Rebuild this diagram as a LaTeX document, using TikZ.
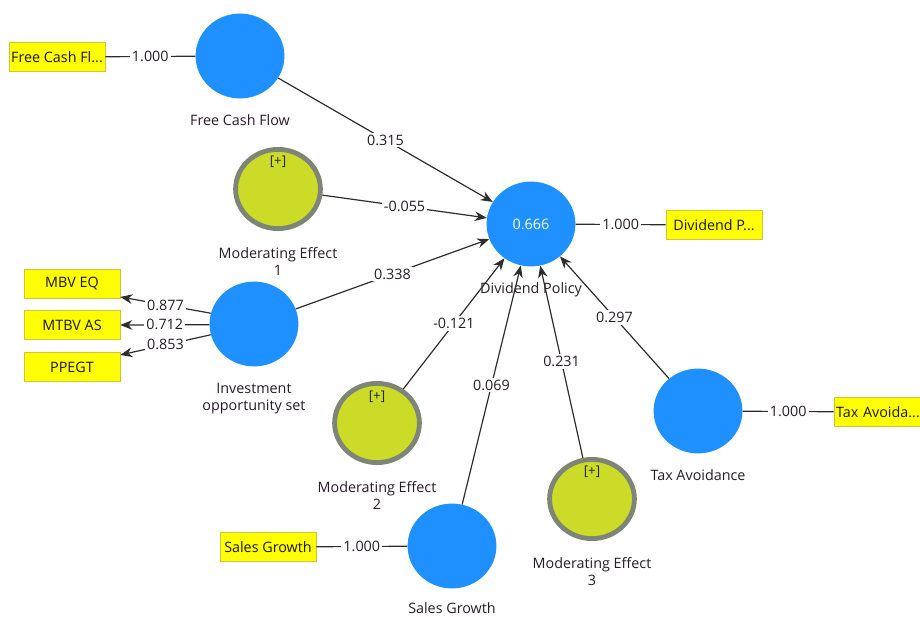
\documentclass[tikz,border=0pt]{standalone}
\usepackage{fontspec}
\setmainfont{Open Sans}
\usetikzlibrary{arrows.meta, positioning, shapes.geometric}

\definecolor{lvblue}{RGB}{30,144,255}
\definecolor{modgreen}{RGB}{204,218,40}
\definecolor{modgray}{RGB}{125,133,118}
\definecolor{indyellow}{RGB}{255,255,0}
\definecolor{indborder}{RGB}{205,195,60}
\definecolor{txtcol}{RGB}{40,28,40}
\definecolor{edgecol}{RGB}{45,45,45}

\begin{document}
\begin{tikzpicture}[x=0.025cm, y=-0.025cm,
	lv/.style={ellipse, fill=lvblue, minimum width=2.22cm, minimum height=2.12cm, inner sep=0pt},
	mod/.style={ellipse, draw=modgray, line width=0.12cm, fill=modgreen, minimum width=2.12cm, minimum height=1.98cm, inner sep=0pt},
	ind/.style={rectangle, draw=indborder, fill=indyellow, minimum width=2.4cm, minimum height=0.72cm, inner sep=1pt, font=\fontsize{10.2}{12}\selectfont, text=black!90},
	lbl/.style={font=\fontsize{10.2}{12.5}\selectfont, text=txtcol, align=center, inner sep=1pt},
	plus/.style={font=\fontsize{9.5}{10}\selectfont, text=black!85, inner sep=0pt},
	coef/.style={font=\fontsize{10.2}{12}\selectfont, text=txtcol, fill=white, inner sep=1.5pt},
	path/.style={-{Stealth[length=0.3cm, width=0.24cm]}, draw=edgecol, line width=0.85pt},
	link/.style={draw=edgecol, line width=0.85pt},
	node distance=0.36cm
]
	\useasboundingbox (0,0) rectangle (920,617);
	\clip (0,0) rectangle (920,617);

	% constructs
	\node[lv] (fcf) at (240,56) {};
	\node[mod] (me1) at (278,189) {};
	\node[lv] (ios) at (254,324) {};
	\node[lv, text=white, font=\fontsize{10.2}{12}\selectfont] (dp) at (531,224) {0.666};
	\node[mod] (me2) at (377,423) {};
	\node[lv] (sg) at (452,546) {};
	\node[mod] (me3) at (592,499) {};
	\node[lv] (tax) at (698,411) {};

	\node[plus] (me1plus) at (278,162) {[+]};
	\node[plus] (me2plus) at (377,397) {[+]};
	\node[plus] (me3plus) at (592,472) {[+]};

	\node[lbl, below=of fcf] (fcflbl) {Free Cash Flow};
	\node[lbl, below=of me1] (me1lbl) {Moderating Effect\\1};
	\node[lbl, below=of ios] (ioslbl) {Investment\\opportunity set};
	\node[lbl, below=of dp] (dplbl) {Dividend Policy};
	\node[lbl, below=of me2] (me2lbl) {Moderating Effect\\2};
	\node[lbl, below=0.3cm of sg] (sglbl) {Sales Growth};
	\node[lbl, below=of me3] (me3lbl) {Moderating Effect\\3};
	\node[lbl, below=of tax] (taxlbl) {Tax Avoidance};

	% indicators
	\node[ind] (fcfbox) at (57,57) {Free Cash Fl...};
	\node[ind] (dpbox) at (714,225) {Dividend P...};
	\node[ind, text width=2.3cm, align=left, inner sep=1.5pt] (taxbox) at (882,412) {Tax Avoida...};
	\node[ind] (mbv) at (72,284) {MBV EQ};
	\node[ind] (mtbv) at (72,325) {MTBV AS};
	\node[ind] (ppegt) at (72,367) {PPEGT};
	\node[ind] (sgbox) at (268,547) {Sales Growth};

	% outer model
	\draw[link] (fcfbox) -- node[coef] {1.000} (fcf);
	\draw[link] (dp) -- node[coef] {1.000} (dpbox);
	\draw[link] (tax) -- node[coef] {1.000} (taxbox);
	\draw[link] (sgbox) -- node[coef] {1.000} (sg);
	\draw[path] (ios.166) -- node[coef] {0.877} (mbv.-15);
	\draw[path] (ios.181) -- node[coef] {0.712} (mtbv.east);
	\draw[path] (ios.194) -- node[coef] {0.853} (ppegt.14);

	% inner model
	\draw[path] (fcf) -- node[coef] {0.315} (dp);
	\draw[path] (me1) -- node[coef] {-0.055} (dp);
	\draw[path] (ios) -- node[coef] {0.338} (dp);
	\draw[path] (me2) -- node[coef] {-0.121} (dp);
	\draw[path] (sg) -- node[coef] {0.069} (dp);
	\draw[path] (me3) -- node[coef] {0.231} (dp);
	\draw[path] (tax) -- node[coef] {0.297} (dp);
\end{tikzpicture}
\end{document}
